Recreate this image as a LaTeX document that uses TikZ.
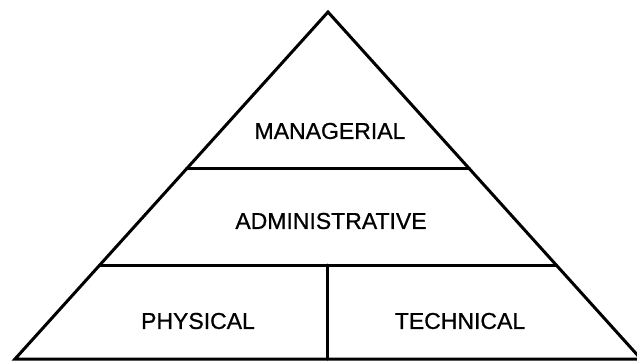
\documentclass[tikz,border=0pt]{standalone}
\usepackage{fontspec}
\setmainfont{Liberation Sans}
\newfontface\tierfont{Liberation Sans}[FakeBold=0.8]
\usetikzlibrary{calc}
\tikzset{
    tierline/.style={line width=3pt, line cap=round, line join=miter},
    tierlabel/.style={inner sep=0pt, font=\tierfont\fontsize{23}{27}\selectfont}
}

\begin{document}
\begin{tikzpicture}[x=1pt, y=-1pt]
    \useasboundingbox (0, 0) rectangle (637, 360);
    \begin{scope}
        \clip (0, 0) rectangle (637, 360);
        % Outline
        \coordinate (apex) at (328, 12);
        \coordinate (baseL) at (15, 359);
        \coordinate (baseR) at (641, 359);
        \draw[tierline] (baseL) -- (apex) -- (baseR) -- cycle;
        % Tier borders
        \coordinate (topL) at ($(baseL)!0.5476!(apex)$);
        \coordinate (topR) at ($(baseR)!0.5476!(apex)$);
        \coordinate (midL) at ($(baseL)!0.2709!(apex)$);
        \coordinate (midR) at ($(baseR)!0.2709!(apex)$);
        \draw[tierline] (topL) -- (topR);
        \draw[tierline] (midL) -- (midR);
        \coordinate (splitTop) at ($(midL)!0.5!(midR) + (-1, 0)$);
        \coordinate (splitBot) at ($(baseL)!0.5!(baseR) + (-1, 0)$);
        \draw[tierline] (splitTop) -- (splitBot);
    \end{scope}
    % Labels
    \node[tierlabel] (managerial) at (330, 131) {MANAGERIAL};
    \node[tierlabel] (administrative) at (331, 221) {ADMINISTRATIVE};
    \node[tierlabel] (physical) at (198, 321) {PHYSICAL};
    \node[tierlabel] (technical) at (460, 321) {TECHNICAL};
\end{tikzpicture}
\end{document}
